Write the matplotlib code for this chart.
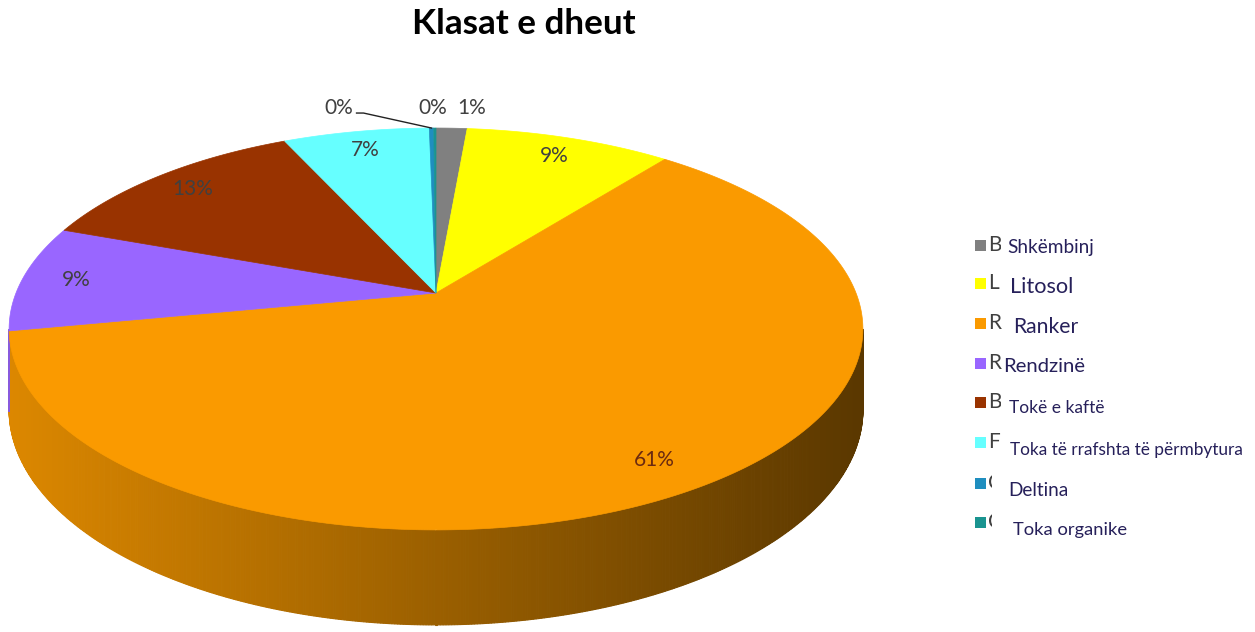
import matplotlib
matplotlib.use('Agg')
import matplotlib.pyplot as plt
import numpy as np
from matplotlib.patches import Polygon, Rectangle
from matplotlib.colors import to_rgb

# data
categories = ['Shkëmbinj', 'Litosol', 'Ranker', 'Rendzinë', 'Tokë e kaftë',
              'Toka të rrafshta të përmbytura', 'Deltina', 'Toka organike']
hidden_initials = ['B', 'L', 'R', 'R', 'B', 'F', 'C', 'C']
values = [1.4, 9.3, 61.5, 8.6, 12.6, 6.6, 0.2, 0.1]
colors = ['#808080', '#ffff00', '#fa9a00', '#9966ff', '#993300',
          '#66ffff', '#1f8ebf', '#1a9490']
title = 'Klasat e dheut'

# perspective pie geometry (pixels, y down)
CX, CY = 436, 293
A, B, K, H = 420, 194.5, 0.179, 78

FONT = 'Lato'


def project(u, v, drop=0.0):
    d = 1 + K * v
    return CX + A * u / d, CY - B * v / d + H * drop / d


def main():
    fig = plt.figure(figsize=(12.55, 6.32), dpi=100)
    ax = fig.add_axes([0, 0, 1, 1])
    ax.set_xlim(0, 1255)
    ax.set_ylim(632, 0)
    ax.axis('off')

    vals = np.array(values)
    frac = vals / vals.sum()
    edges = np.concatenate([[0], np.cumsum(frac)]) * 2 * np.pi

    # side wall, only the front arc is visible
    t1 = np.arccos(-K)
    t2 = 2 * np.pi - t1
    ts = np.linspace(t1, t2, 500)
    xmin = CX - A / np.sqrt(1 - K ** 2)
    xspan = 2 * A / np.sqrt(1 - K ** 2)
    for a0, a1 in zip(ts[:-1], ts[1:]):
        mid = (a0 + a1) / 2
        i = min(np.searchsorted(edges, mid) - 1, len(values) - 1)
        xm, _ = project(np.sin(mid), np.cos(mid))
        f = 0.88 - 0.52 * (xm - xmin) / xspan
        c = tuple(np.clip(np.array(to_rgb(colors[i])) * f, 0, 1))
        p0 = project(np.sin(a0), np.cos(a0))
        p1 = project(np.sin(a1), np.cos(a1))
        q1 = project(np.sin(a1), np.cos(a1), 1)
        q0 = project(np.sin(a0), np.cos(a0), 1)
        ax.add_patch(Polygon([p0, p1, q1, q0], closed=True, facecolor=c,
                             edgecolor=c, lw=0.8, zorder=1))

    # top face wedges
    for i in range(len(values)):
        a = np.linspace(edges[i], edges[i + 1], max(3, int(np.degrees(edges[i + 1] - edges[i])) * 2 + 2))
        pts = [project(0, 0)] + [project(np.sin(t), np.cos(t)) for t in a]
        ax.add_patch(Polygon(pts, closed=True, facecolor=colors[i],
                             edgecolor=colors[i], lw=0.5, zorder=2))

    # percentage labels
    outside = {0: (20, -20), 6: (-93, -20), 7: (-2, -20)}
    for i in range(len(values)):
        mid = (edges[i] + edges[i + 1]) / 2
        lab = '%d%%' % round(frac[i] * 100)
        if i in outside:
            bx, by = project(np.sin(mid), np.cos(mid))
            dx, dy = outside[i]
            lx, ly = bx + dx, by + dy
            if i == 6:
                ax.plot([lx + 18, lx + 25, bx], [ly + 5, ly + 5, by],
                        color='#222222', lw=1, zorder=5)
        else:
            r = 0.87
            lx, ly = project(r * np.sin(mid), r * np.cos(mid))
        col = '#6b2a10' if i == 2 else '#404040'
        ax.text(lx, ly, lab, ha='center', va='center', fontsize=15,
                family=FONT, color=col, zorder=6)

    # title
    tt = ax.text(524, 24, title, ha='center', va='center', fontsize=24,
                 family=FONT, fontweight='bold', color='black')

    # legend: initials partly hidden under white boxes with Albanian names
    ys = [247, 287, 327, 367, 408, 450, 490, 530]
    sq_y = [245, 283, 323, 363, 402, 442, 483, 522]
    text_x = [1007, 1010, 1013, 1003, 1009, 1010, 1008, 1013]
    box_x = [1001, 1002, 1002, 1002, 1001, 1002, 992, 992]
    widths = [86, 63, 65, 82, 95, 232, 60, 114]
    texts = []
    for i in range(len(categories)):
        ax.add_patch(Rectangle((975, sq_y[i] - 5.5), 11, 11, facecolor=colors[i],
                               edgecolor='none', zorder=2))
        ax.text(988, sq_y[i], hidden_initials[i], ha='left', va='center',
                fontsize=15, family=FONT, color='#404040', zorder=2)
        texts.append(ax.text(text_x[i], ys[i], categories[i], ha='left', va='center',
                             fontsize=12, family=FONT, color='#26205a', zorder=4))

    fig.canvas.draw()
    rend = fig.canvas.get_renderer()
    for i, t in enumerate(texts):
        w = t.get_window_extent(rend).width
        t.set_fontsize(12 * widths[i] / w)
        top = min(ys[i], sq_y[i]) - 13
        ax.add_patch(Rectangle((box_x[i], top), text_x[i] + widths[i] + 4 - box_x[i],
                               ys[i] + 13 - top, facecolor='white', edgecolor='none', zorder=3))
    w = tt.get_window_extent(rend).width
    tt.set_fontsize(24 * 224 / w)

    fig.savefig('out.png', dpi=100, facecolor='white')


main()
